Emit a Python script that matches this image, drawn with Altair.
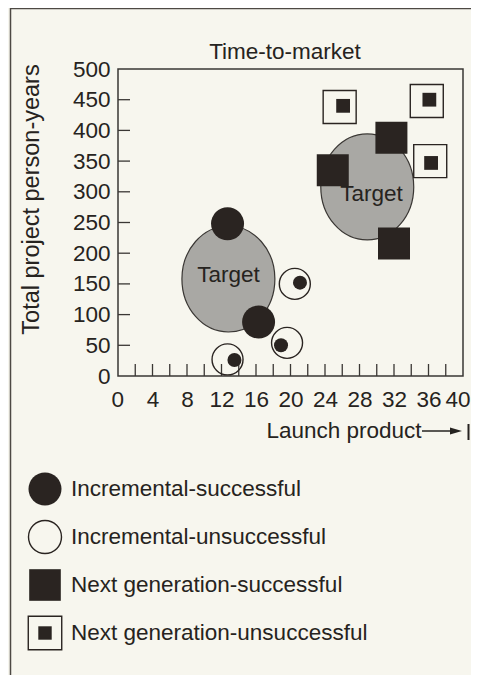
import altair as alt
import pandas as pd

# ---------------- data ----------------
categories = [
    "Incremental-successful",
    "Incremental-unsuccessful",
    "Next generation-successful",
    "Next generation-unsuccessful",
]

inc_succ_x = [12.7, 16.3]
inc_succ_y = [248, 88]

inc_unsucc_x = [20.5, 19.6, 12.7]
inc_unsucc_y = [150, 54, 27]
inc_unsucc_dot_x = [21.1, 18.9, 13.5]
inc_unsucc_dot_y = [152, 50, 26]

next_succ_x = [24.9, 31.7, 32.0]
next_succ_y = [335, 388, 216]

next_unsucc_x = [25.7, 35.8, 36.2]
next_unsucc_y = [438, 448, 350]
next_unsucc_dot_x = [26.1, 36.1, 36.3]
next_unsucc_dot_y = [440, 450, 347]

target_x = [12.8, 28.9]
target_y = [158, 308]
target_label_x = [12.8, 29.4]
target_label_y = [165, 297]
target_text = ["Target", "Target"]

x_label_values = [0, 4, 8, 12, 16, 20, 24, 28, 32, 36, 40]
x_tick_values = [2, 4, 6, 8, 10, 12, 14, 16, 18, 20, 22, 24, 26, 28, 30, 32, 34, 36, 38]
y_label_values = [0, 50, 100, 150, 200, 250, 300, 350, 400, 450, 500]
y_tick_values = [50, 100, 150, 200, 250, 300, 350, 400, 450]

title_text = ["Time-to-market"]
x_title = "Launch product"
y_title = "Total project person-years"

# ---------------- styling ----------------
DARK = "#2a2421"
GRAY = "#a9a8a4"
EDGE = "#3a3734"
TEXT = "#262320"
BG = "#f7f6ee"
FONT = "Liberation Sans"
FS = 22.5
W, H = 345, 307
ELLIPSE = "M-0.877,0 A0.877,1 0 1,0 0.877,0 A0.877,1 0 1,0 -0.877,0 Z"
ARROW = "M-1,-0.6 L1,0 L-1,0.6 Z"

xs = alt.Scale(domain=[0, 40], nice=False, zero=False)
ys = alt.Scale(domain=[0, 500], nice=False, zero=False)

x_axis = alt.Axis(
    values=x_label_values,
    title=x_title,
    labelFlush=True,
    labelFlushOffset=7,
    labelOverlap=False,
    labelPadding=12,
    titleX=303,
    titleY=61,
    titleAlign="right",
    titleBaseline="alphabetic",
)
y_axis = alt.Axis(
    values=y_label_values,
    title=y_title,
    labelOverlap=False,
    labelPadding=8,
    titleAngle=270,
    titleX=-80,
    titleY=130,
    titleAlign="center",
    titleBaseline="alphabetic",
    titleFontSize=23.5,
)

X = alt.X("x:Q", scale=xs, axis=x_axis)
Y = alt.Y("y:Q", scale=ys, axis=y_axis)


def pts(xv, yv):
    return pd.DataFrame({"x": xv, "y": yv})


one = pd.DataFrame({"a": [0]})

# inward ticks drawn as rules through the scales
x_ticks = alt.Chart(pd.DataFrame({"x": x_tick_values})).mark_rule(
    color=EDGE, strokeWidth=1.3
).encode(x=X, y=alt.value(H - 12), y2=alt.value(H))

y_ticks = alt.Chart(pd.DataFrame({"y": y_tick_values})).mark_rule(
    color=EDGE, strokeWidth=1.3
).encode(y=Y, x=alt.value(0), x2=alt.value(12))

ellipses = alt.Chart(pts(target_x, target_y)).mark_point(
    shape=ELLIPSE, size=11236, filled=True, fill=GRAY, stroke=EDGE,
    strokeWidth=1.2, opacity=1,
).encode(x=X, y=Y)

target_labels = alt.Chart(
    pd.DataFrame({"x": target_label_x, "y": target_label_y, "t": target_text})
).mark_text(font=FONT, fontSize=FS, color=TEXT, align="center", baseline="middle").encode(
    x=X, y=Y, text="t:N"
)

big_circles = alt.Chart(pts(inc_succ_x, inc_succ_y)).mark_point(
    shape="circle", size=1089, filled=True, color=DARK, opacity=1
).encode(x=X, y=Y)

open_circles = alt.Chart(pts(inc_unsucc_x, inc_unsucc_y)).mark_point(
    shape="circle", size=961, filled=False, stroke=DARK, strokeWidth=1.4, opacity=1
).encode(x=X, y=Y)

circle_dots = alt.Chart(pts(inc_unsucc_dot_x, inc_unsucc_dot_y)).mark_point(
    shape="circle", size=196, filled=True, color=DARK, opacity=1
).encode(x=X, y=Y)

big_squares = alt.Chart(pts(next_succ_x, next_succ_y)).mark_point(
    shape="square", size=1024, filled=True, color=DARK, opacity=1
).encode(x=X, y=Y)

open_squares = alt.Chart(pts(next_unsucc_x, next_unsucc_y)).mark_point(
    shape="square", size=1089, filled=False, stroke=DARK, strokeWidth=1.4, opacity=1
).encode(x=X, y=Y)

square_dots = alt.Chart(pts(next_unsucc_dot_x, next_unsucc_dot_y)).mark_point(
    shape="square", size=190, filled=True, color=DARK, opacity=1
).encode(x=X, y=Y)

title = alt.Chart(pd.DataFrame({"t": title_text})).mark_text(
    font=FONT, fontSize=FS, color=TEXT, align="center", baseline="alphabetic"
).encode(x=alt.value(167), y=alt.value(-10), text="t:N")

# decorations: arrow after the x title, scan border
arrow_line = alt.Chart(one).mark_rule(color=TEXT, strokeWidth=1.5).encode(
    x=alt.value(304), x2=alt.value(336), y=alt.value(362)
)
arrow_head = alt.Chart(one).mark_point(
    shape=ARROW, size=144, filled=True, color=TEXT, opacity=1
).encode(x=alt.value(338), y=alt.value(362))
arrow_bar = alt.Chart(one).mark_rule(color=TEXT, strokeWidth=2).encode(
    x=alt.value(350.5), y=alt.value(355), y2=alt.value(371)
)
border = alt.Chart(one).mark_rect(
    fillOpacity=0, stroke="#4d4944", strokeWidth=1.5
).encode(x=alt.value(-107.5), x2=alt.value(420), y=alt.value(-60.5), y2=alt.value(720))

main = alt.layer(
    border, x_ticks, y_ticks, ellipses, target_labels, big_circles, open_circles,
    circle_dots, big_squares, open_squares, square_dots, title,
    arrow_line, arrow_head, arrow_bar,
)

# legend (rows positioned by a point scale over the categories)
leg_df = pd.DataFrame({"cat": categories})
LY = alt.Y(
    "cat:N",
    scale=alt.Scale(type="point", domain=categories, range=[420, 564], padding=0),
    axis=None,
)
LX = alt.value(-73)
leg = alt.Chart(leg_df)
leg_c1 = leg.transform_filter(alt.datum.cat == categories[0]).mark_point(
    shape="circle", size=1089, filled=True, color=DARK, opacity=1
).encode(x=LX, y=LY)
leg_c2 = leg.transform_filter(alt.datum.cat == categories[1]).mark_point(
    shape="circle", size=1089, filled=False, stroke=DARK, strokeWidth=1.4, opacity=1
).encode(x=LX, y=LY)
leg_c3 = leg.transform_filter(alt.datum.cat == categories[2]).mark_point(
    shape="square", size=1000, filled=True, color=DARK, opacity=1
).encode(x=LX, y=LY)
leg_c4 = leg.transform_filter(alt.datum.cat == categories[3]).mark_point(
    shape="square", size=1120, filled=False, stroke=DARK, strokeWidth=1.4, opacity=1
).encode(x=LX, y=LY)
leg_c4b = leg.transform_filter(alt.datum.cat == categories[3]).mark_point(
    shape="square", size=180, filled=True, color=DARK, opacity=1
).encode(x=LX, y=LY)
leg_text = leg.mark_text(
    font=FONT, fontSize=FS, color=TEXT, align="left", baseline="middle"
).encode(x=alt.value(-47), y=LY, text="cat:N")

legend = alt.layer(leg_c1, leg_c2, leg_c3, leg_c4, leg_c4b, leg_text)

chart = (
    alt.layer(main, legend)
    .resolve_scale(y="independent")
    .properties(
        width=W,
        height=H,
        autosize=alt.AutoSizeParams(type="none"),
        padding={"left": 110, "top": 61, "right": 8, "bottom": 299},
        background=BG,
    )
    .configure_view(stroke=EDGE, strokeWidth=1.5)
    .configure_axis(
        grid=False,
        domain=False,
        ticks=False,
        tickSize=0,
        labelFont=FONT,
        labelFontSize=FS,
        labelColor=TEXT,
        titleFont=FONT,
        titleFontSize=FS,
        titleFontWeight="normal",
        titleColor=TEXT,
    )
)

chart.save("out.html", embed_options={"renderer": "svg", "actions": False})
